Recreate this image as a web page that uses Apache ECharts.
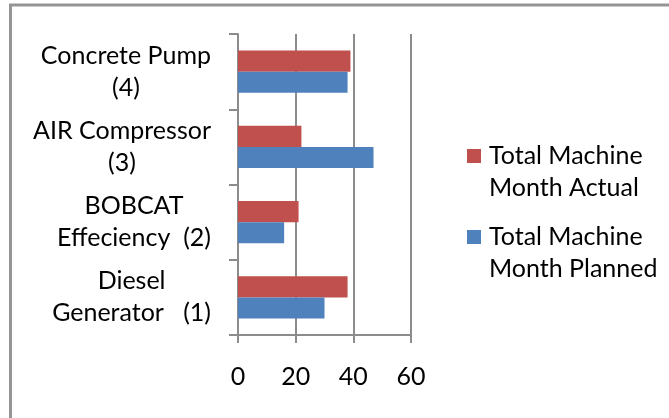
<!DOCTYPE html>
<html>
<head>
<meta charset="utf-8">
<script src="https://cdn.jsdelivr.net/npm/echarts@6/dist/echarts.min.js"></script>
<style>
html,body{margin:0;padding:0;background:#fff;}
#chart{width:669px;height:418px;}
</style>
</head>
<body>
<div id="chart"></div>
<script>
const categories = ["Diesel\nGenerator   (1)", "BOBCAT\nEffeciency  (2)", "AIR Compressor\n(3)", "Concrete Pump\n(4)"];
const plannedValues = [30, 16, 47, 38];
const actualValues = [38, 21, 22, 39];
const seriesNames = ["Total Machine Month Actual", "Total Machine Month Planned"];
const legendLabels = {
  "Total Machine Month Actual": " \nTotal Machine\nMonth Actual",
  "Total Machine Month Planned": " \nTotal Machine\nMonth Planned"
};
const xTicks = [0, 20, 40, 60];

const FONT = 'Lato';
const FS = 25;
const chart = echarts.init(document.getElementById('chart'));
chart.setOption({
  animation: false,
  backgroundColor: '#fff',
  textStyle: {fontFamily: FONT},
  graphic: [{
    type: 'rect', shape: {x: 10.5, y: 5, width: 700, height: 500},
    style: {fill: 'none', stroke: '#959595', lineWidth: 3}, silent: true
  }],
  grid: {left: 238, right: 258, top: 34, bottom: 83, containLabel: false},
  legend: {
    orient: 'vertical', left: 467, top: 108, padding: 0,
    itemWidth: 14, itemHeight: 14, itemGap: -15,
    data: ["Total Machine Month Actual", "Total Machine Month Planned"],
    formatter: function (n) { return legendLabels[n]; },
    icon: 'rect',
    textStyle: {fontFamily: FONT, fontSize: FS, color: '#000', lineHeight: 32, padding: [0, 0, 0, 3]}
  },
  xAxis: {
    type: 'value', min: xTicks[0], max: xTicks[xTicks.length - 1], interval: 20,
    axisLine: {show: true, lineStyle: {color: '#8c8c8c', width: 2}},
    axisTick: {show: true, length: 8, lineStyle: {color: '#8c8c8c', width: 2}},
    splitLine: {show: true, lineStyle: {color: '#8c8c8c', width: 2}},
    axisLabel: {margin: 29, fontFamily: FONT, fontSize: FS, color: '#000'}
  },
  yAxis: {
    type: 'category', data: categories,
    axisLine: {show: true, lineStyle: {color: '#8c8c8c', width: 2}},
    axisTick: {show: true, length: 9, interval: 0, lineStyle: {color: '#8c8c8c', width: 2}},
    axisLabel: {
      margin: 27, interval: 0, align: 'right',
      formatter: function (v) { return v.split('\n').map(function (s) { return '{a|' + s + '}'; }).join('\n'); },
      rich: {a: {fontFamily: FONT, fontSize: FS, color: '#000', lineHeight: 32, align: 'center'}}
    }
  },
  series: [
    {name: seriesNames[0], type: 'bar', data: actualValues, barGap: '0%', barCategoryGap: '44%',
     itemStyle: {color: '#C0504D'}},
    {name: seriesNames[1], type: 'bar', data: plannedValues, barGap: '0%', barCategoryGap: '44%',
     itemStyle: {color: '#4F81BD'}}
  ]
});
</script>
</body>
</html>
